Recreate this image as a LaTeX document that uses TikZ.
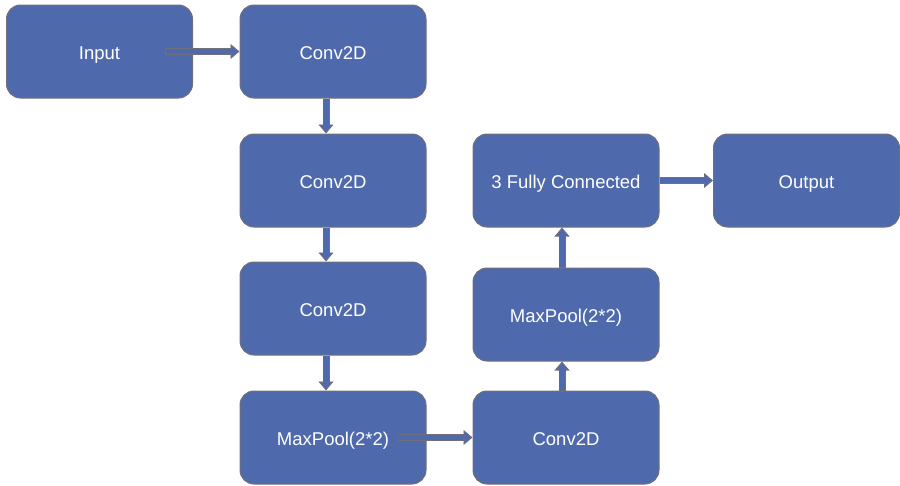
\documentclass[tikz,border=0pt]{standalone}
\usepackage{fontspec}
\setmainfont{Liberation Sans}
\usetikzlibrary{arrows.meta}

\definecolor{boxblue}{RGB}{79,106,172}
\definecolor{edgegray}{RGB}{112,112,122}

\tikzset{
  layer/.style={draw=edgegray,line width=1pt,fill=boxblue,rounded corners=14pt,
    minimum width=186pt,minimum height=93pt,text=white,font=\fontsize{18.5}{20}\selectfont,
    text height=15.6pt,text depth=0pt},
  conn/.style={draw=edgegray,line width=7pt,
    -{Triangle[length=9pt,width=15pt,line width=0.9pt,fill=boxblue]},
    postaction={draw=boxblue,line width=5.2pt,-,shorten >=8.4pt,shorten <=0.9pt}}
}

\begin{document}
\begin{tikzpicture}[x=1pt,y=-1pt]
    \useasboundingbox (0,0) rectangle (900,485);

    \node[layer] (in)  at (99.5,51.5)  {Input};
    \node[layer] (c1)  at (333,51.5)   {Conv2D};
    \node[layer] (c2)  at (333,180.5)  {Conv2D};
    \node[layer] (c3)  at (333,308.5)  {Conv2D};
    \node[layer] (mp1) at (333,437.5)  {MaxPool(2*2)};
    \node[layer] (c4)  at (566,437.5)  {Conv2D};
    \node[layer] (mp2) at (566,314.5)  {MaxPool(2*2)};
    \node[layer] (fc)  at (566,180.5)  {3 Fully Connected};
    \node[layer] (out) at (806.5,180.5) {Output};

    \coordinate (inS)  at ([xshift=-28pt]in.east);
    \coordinate (mp1S) at ([xshift=-29pt]mp1.east);

    \draw[conn] (inS) -- (c1.west);
    \draw[conn] ([xshift=-7pt]c1.south) -- ([xshift=-7pt]c2.north);
    \draw[conn] ([xshift=-7pt]c2.south) -- ([xshift=-7pt]c3.north);
    \draw[conn] ([xshift=-7pt]c3.south) -- ([xshift=-7pt]mp1.north);
    \draw[conn] (mp1S) -- (c4.west);
    \draw[conn] ([xshift=-4pt]c4.north) -- ([xshift=-4pt]mp2.south);
    \draw[conn] ([xshift=-4pt]mp2.north) -- ([xshift=-4pt]fc.south);
    \draw[conn] (fc.east) -- (out.west);
\end{tikzpicture}
\end{document}
